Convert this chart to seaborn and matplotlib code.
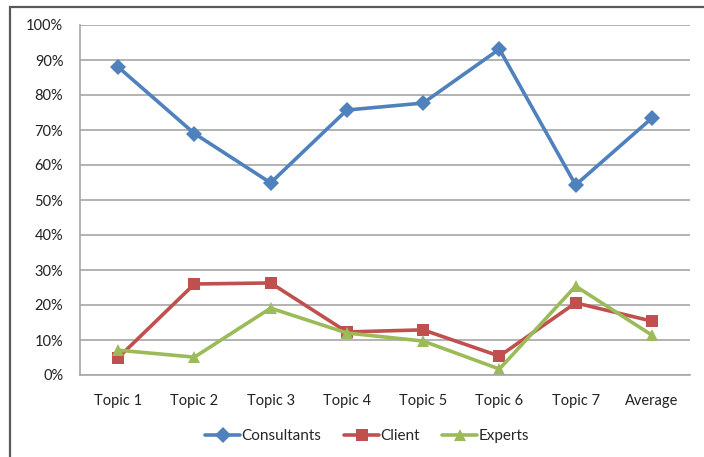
import matplotlib
matplotlib.use("Agg")
import matplotlib.pyplot as plt
import matplotlib.patches as mpatches
from matplotlib.ticker import FuncFormatter
import seaborn as sns
import pandas as pd

# Survey results by topic
categories = ["Topic 1", "Topic 2", "Topic 3", "Topic 4", "Topic 5", "Topic 6", "Topic 7", "Average"]
consultants = [0.88, 0.69, 0.549, 0.757, 0.777, 0.931, 0.543, 0.734]
client = [0.049, 0.26, 0.263, 0.123, 0.129, 0.054, 0.206, 0.154]
experts = [0.071, 0.051, 0.191, 0.12, 0.097, 0.017, 0.254, 0.114]
series_names = ["Consultants", "Client", "Experts"]
y_ticks = [i / 10 for i in range(11)]

df = pd.concat([
    pd.DataFrame({"pos": range(len(categories)), "value": vals, "group": name})
    for name, vals in zip(series_names, [consultants, client, experts])
])

sns.set_theme(style="white")
plt.rcParams["font.family"] = ["Lato", "DejaVu Sans"]

palette = {"Consultants": "#4F81BD", "Client": "#C0504D", "Experts": "#9BBB59"}
markers = {"Consultants": "D", "Client": "s", "Experts": "^"}

fig = plt.figure(figsize=(7.04, 4.57), dpi=100)
ax = fig.add_axes([80 / 704, 82 / 457, 610 / 704, 350 / 457])

sns.lineplot(data=df, x="pos", y="value", hue="group", style="group",
             markers=markers, dashes=False, palette=palette, linewidth=2.6,
             markersize=8.5, markeredgewidth=0, ax=ax, sort=False)

ax.set_xlim(-0.5, len(categories) - 0.5)
ax.set_ylim(0, 1)
ax.set_xticks(range(len(categories)))
ax.set_xticklabels(categories)
ax.set_yticks(y_ticks)
ax.yaxis.set_major_formatter(FuncFormatter(lambda v, _: f"{v * 100:.0f}%"))
ax.yaxis.grid(True, color="#A6A6A6", linewidth=1.2)
ax.set_axisbelow(True)
ax.set_xlabel("")
ax.set_ylabel("")
ax.tick_params(axis="both", length=0, labelsize=10.5, colors="#222222")
ax.tick_params(axis="x", pad=14)
ax.tick_params(axis="y", pad=12)
for side in ["top", "right"]:
    ax.spines[side].set_visible(False)
for side in ["left", "bottom"]:
    ax.spines[side].set_color("#A6A6A6")
    ax.spines[side].set_linewidth(1.2)

handles, labels = ax.get_legend_handles_labels()
ax.legend(handles, labels, loc="center", bbox_to_anchor=(367 / 704, 21 / 457),
          bbox_transform=fig.transFigure, ncol=3, frameon=False, fontsize=11,
          handlelength=2.3, handletextpad=0.05, columnspacing=1.5)

# Outer chart frame (left and top edges)
frame = mpatches.Rectangle((10 / 704, -0.2), 1.2, (457 - 7) / 457 + 0.2,
                           transform=fig.transFigure, fill=False,
                           edgecolor="#595959", linewidth=1.6)
fig.patches.append(frame)

fig.savefig("out.png", dpi=100)
